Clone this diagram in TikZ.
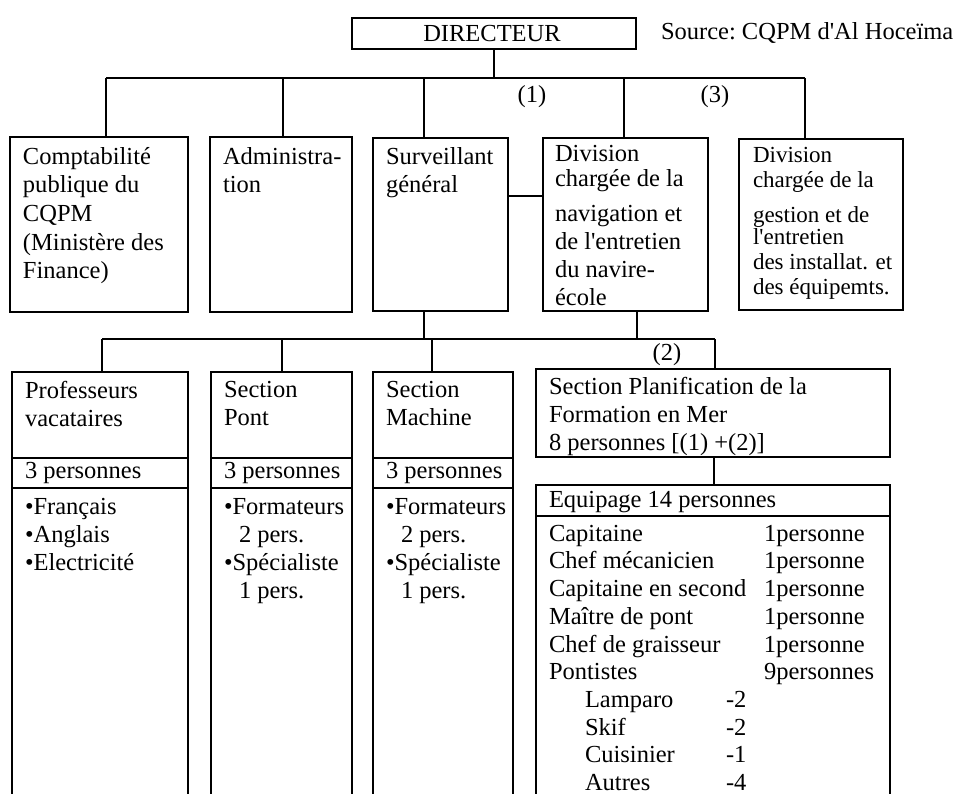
\documentclass[tikz,border=0pt]{standalone}
\usepackage{fontspec}
\setmainfont{Liberation Serif}
\usetikzlibrary{positioning}
\newcommand{\crew}[2]{\makebox[215pt][l]{#1}#2}
\newcommand{\crewsub}[2]{\hspace*{36pt}\makebox[141pt][l]{#1}#2}

\begin{document}
\begin{tikzpicture}[x=1pt, y=-1pt, line width=2pt,
    font=\fontsize{24.5}{28}\selectfont,
    box/.style={draw, anchor=north west, inner sep=0pt, outer sep=0pt},
    txt/.style={anchor=north west, align=left, inner xsep=12pt, inner ysep=8pt}]
    \useasboundingbox (0,0) rectangle (958,794);
    \clip (0,0) rectangle (958,794);

    % top
    \node (dir) [box, minimum width=284pt, minimum height=31pt] at (352,18) {};
    \node (dir-t) at ([xshift=-2pt]dir.center) {DIRECTEUR};
    \node (src) [anchor=base west, inner sep=0pt] at (660,40) {Source:\ CQPM d\textquotesingle Al Hoceïma};

    % first level
    \node (compta) [box, minimum width=178pt, minimum height=175pt] at (10,137) {};
    \node (admin) [box, minimum width=142pt, minimum height=174pt, right=22pt of compta] {};
    \node (surv) [box, minimum width=135pt, minimum height=173pt, right=21pt of admin] {};
    \node (divnav) [box, minimum width=165pt, minimum height=172pt, right=35pt of surv] {};
    \node (divges) [box, minimum width=164pt, minimum height=171pt, right=31pt of divnav] {};

    \node (compta-t) [txt, inner ysep=9pt] at (compta.north west)
        {Comptabilité\\publique du\\[1pt]CQPM\\[1pt](Ministère des\\Finance)};
    \node (admin-t) [txt, inner ysep=9pt] at (admin.north west) {Administra-\\tion};
    \node (surv-t) [txt, inner ysep=9pt] at (surv.north west) {Surveillant\\général};
    \node (divnav-t) [txt, inner xsep=11pt, inner ysep=6pt] at (divnav.north west)
        {Division\\[-3pt]chargée de la\\[7pt]navigation et\\de l\textquotesingle entretien\\du navire-\\école};
    \node (divges-t) [txt, inner xsep=13pt, inner ysep=7pt, font=\fontsize{23}{25}\selectfont] at (divges.north west)
        {Division\\chargée de la\\[10pt]gestion et de\\[-3pt]l\textquotesingle entretien\\des installat. et\\des équipemts.};

    \coordinate (busL) at (106,78);
    \coordinate (busR) at (805,78);
    \draw (busL) -- (busR);
    \draw (dir.south) -- (dir.south |- busL);
    \foreach \n/\dx in {compta/7, admin/2, surv/-16.5, divnav/-1.5, divges/-16}
        \draw ([xshift=\dx pt]\n.north) -- ([xshift=\dx pt]\n.north |- busL);
    \draw ([yshift=28pt]surv.east) -- ([yshift=28pt]surv.east -| divnav.west);
    \node (n1) at (532,97) {(1)};
    \node (n3) at (715,97) {(3)};

    % second level
    \foreach \n/\x/\w/\head/\items in {
        prof/12/176/{Professeurs\\vacataires}/{•Français\\•Anglais\\•Electricité},
        pont/211/141/{Section\\Pont}/{•Formateurs\\\hspace*{15pt}2 pers.\\•Spécialiste\\\hspace*{15pt}1 pers.},
        mach/373/140/{Section\\Machine}/{•Formateurs\\\hspace*{15pt}2 pers.\\•Spécialiste\\\hspace*{15pt}1 pers.}}
    {
        \node (\n-h) [box, minimum width=\w pt, minimum height=86pt] at (\x,372) {};
        \node (\n-c) [box, minimum width=\w pt, minimum height=30pt, below=0pt of \n-h] {};
        \node (\n-l) [box, minimum width=\w pt, minimum height=340pt, below=0pt of \n-c] {};
        \node (\n-ht) [txt] at (\n-h.north west) {\head};
        \node (\n-ct) [txt, anchor=west, inner ysep=0pt] at (\n-c.west) {3 personnes};
        \node (\n-lt) [txt, inner ysep=9pt] at (\n-l.north west) {\items};
    }

    \node (planif) [box, minimum width=354pt, minimum height=88pt] at (536,369) {};
    \node (planif-t) [txt, inner ysep=7pt] at (planif.north west)
        {Section Planification de la\\Formation en Mer\\8 personnes [(1) +(2)]};
    \node (equip-h) [box, minimum width=354pt, minimum height=31pt] at (536,485) {};
    \node (equip-ht) [txt, anchor=west, inner ysep=0pt] at ([yshift=-2pt]equip-h.west) {Equipage 14 personnes};
    \node (equip) [box, minimum width=354pt, minimum height=320pt, below=0pt of equip-h] {};
    \node (equip-t) [txt, inner ysep=8pt, font=\fontsize{24.5}{27.7}\selectfont] at (equip.north west)
        {\crew{Capitaine}{1personne}\\
         \crew{Chef mécanicien}{1personne}\\
         \crew{Capitaine en second}{1personne}\\
         \crew{Maître de pont}{1personne}\\
         \crew{Chef de graisseur}{1personne}\\
         \crew{Pontistes}{9personnes}\\
         \crewsub{Lamparo}{-2}\\
         \crewsub{Skif}{-2}\\
         \crewsub{Cuisinier}{-1}\\
         \crewsub{Autres}{-4}};

    \coordinate (lbusL) at (102,339);
    \coordinate (lbusR) at (715,339);
    \draw (lbusL) -- (lbusR);
    \draw ([xshift=-17pt]surv.south) -- ([xshift=-17pt]surv.south |- lbusL);
    \draw ([xshift=11.5pt]divnav.south) -- ([xshift=11.5pt]divnav.south |- lbusL);
    \foreach \n/\dx in {prof-h/2, pont-h/0, mach-h/-11}
        \draw ([xshift=\dx pt]\n.north) -- ([xshift=\dx pt]\n.north |- lbusL);
    \draw (lbusR) -- (lbusR |- planif.north);
    \draw ([xshift=1pt]planif.south) -- ([xshift=1pt]equip-h.north);
    \node (n2) at (667,355) {(2)};
\end{tikzpicture}
\end{document}
